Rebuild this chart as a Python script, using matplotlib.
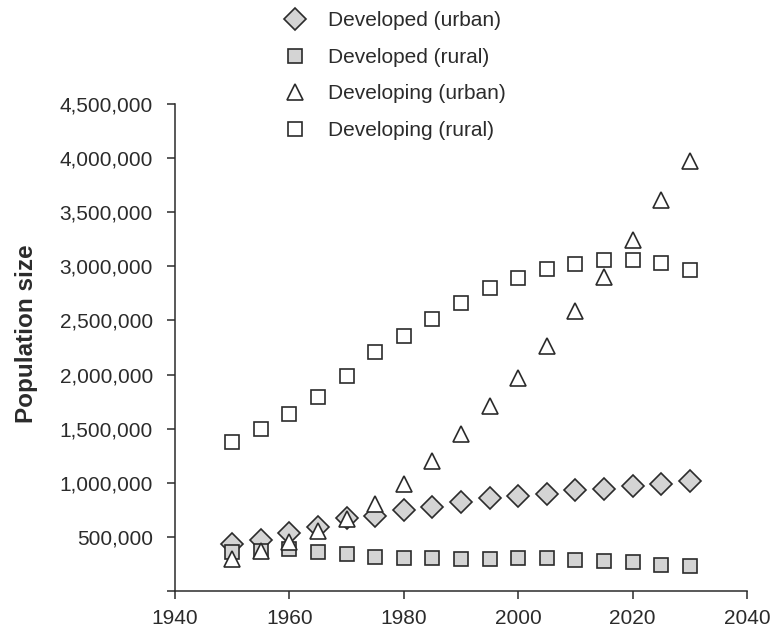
"""Urban and rural population, developed vs developing regions, 1950-2030."""
import matplotlib
matplotlib.use("Agg")
import matplotlib.pyplot as plt
from matplotlib.ticker import FuncFormatter

years = [1950, 1955, 1960, 1965, 1970, 1975, 1980, 1985, 1990,
         1995, 2000, 2005, 2010, 2015, 2020, 2025, 2030]

developed_urban = [434000, 471000, 533000, 589000, 672000, 693000, 749000,
                   773000, 820000, 857000, 881000, 899000, 930000, 946000,
                   973000, 992000, 1019000]
developed_rural = [363000, 372000, 388000, 363000, 345000, 314000, 302000,
                   302000, 299000, 299000, 302000, 305000, 289000, 274000,
                   271000, 243000, 228000]
developing_urban = [297000, 370000, 451000, 557000, 664000, 802000, 987000,
                    1203000, 1448000, 1710000, 1970000, 2260000, 2583000,
                    2904000, 3244000, 3609000, 3976000]
developing_rural = [1380000, 1497000, 1639000, 1793000, 1990000, 2206000,
                    2360000, 2514000, 2665000, 2803000, 2896000, 2973000,
                    3019000, 3059000, 3059000, 3034000, 2970000]

labels = ["Developed (urban)", "Developed (rural)",
          "Developing (urban)", "Developing (rural)"]

ink = "#2b2b2b"
grey = "#d4d4d4"

plt.rcParams.update({"font.family": ["Liberation Sans", "DejaVu Sans"],
                     "font.size": 15, "text.color": ink,
                     "axes.edgecolor": ink, "xtick.color": ink,
                     "ytick.color": ink, "axes.labelcolor": ink})

fig = plt.figure(figsize=(7.73, 6.27), dpi=100)
ax = fig.add_axes([175 / 773, 36 / 627, 572 / 773, 487 / 627])

kw = dict(linestyle="none", markeredgecolor=ink, markeredgewidth=1.2)
ax.plot(years, developed_urban, marker="D", markersize=11,
        markerfacecolor=grey, label=labels[0], **kw)
ax.plot(years, developed_rural, marker="s", markersize=10.5,
        markerfacecolor=grey, label=labels[1], **kw)
ax.plot(years, developing_urban, marker="^", markersize=12,
        markerfacecolor="white", label=labels[2], **kw)
ax.plot(years, developing_rural, marker="s", markersize=10.5,
        markerfacecolor="white", label=labels[3], **kw)

ax.set_xlim(1940, 2040)
ax.set_ylim(0, 4500000)
ax.set_xticks(range(1940, 2041, 20))
ax.set_yticks(range(0, 4500001, 500000))
ax.yaxis.set_major_formatter(
    FuncFormatter(lambda v, p: "" if v == 0 else f"{int(v):,}"))

for s in ["top", "right"]:
    ax.spines[s].set_visible(False)
for s in ["left", "bottom"]:
    ax.spines[s].set_linewidth(1.1)
ax.tick_params(axis="both", direction="out", length=6, width=1.1,
               labelsize=15)
ax.tick_params(axis="y", pad=10)
ax.tick_params(axis="x", pad=7)

ax.set_ylabel("Population size", fontsize=17.5, fontweight="bold")
ax.yaxis.set_label_coords(-0.2395, 0.529)

ax.legend(loc="upper left", bbox_to_anchor=(269 / 773, 1 - 1 / 627),
          bbox_transform=fig.transFigure, frameon=False, numpoints=1,
          borderpad=0, handlelength=1.5, handletextpad=0.84,
          labelspacing=0.84, fontsize=15)

fig.savefig("out.png", dpi=100)
